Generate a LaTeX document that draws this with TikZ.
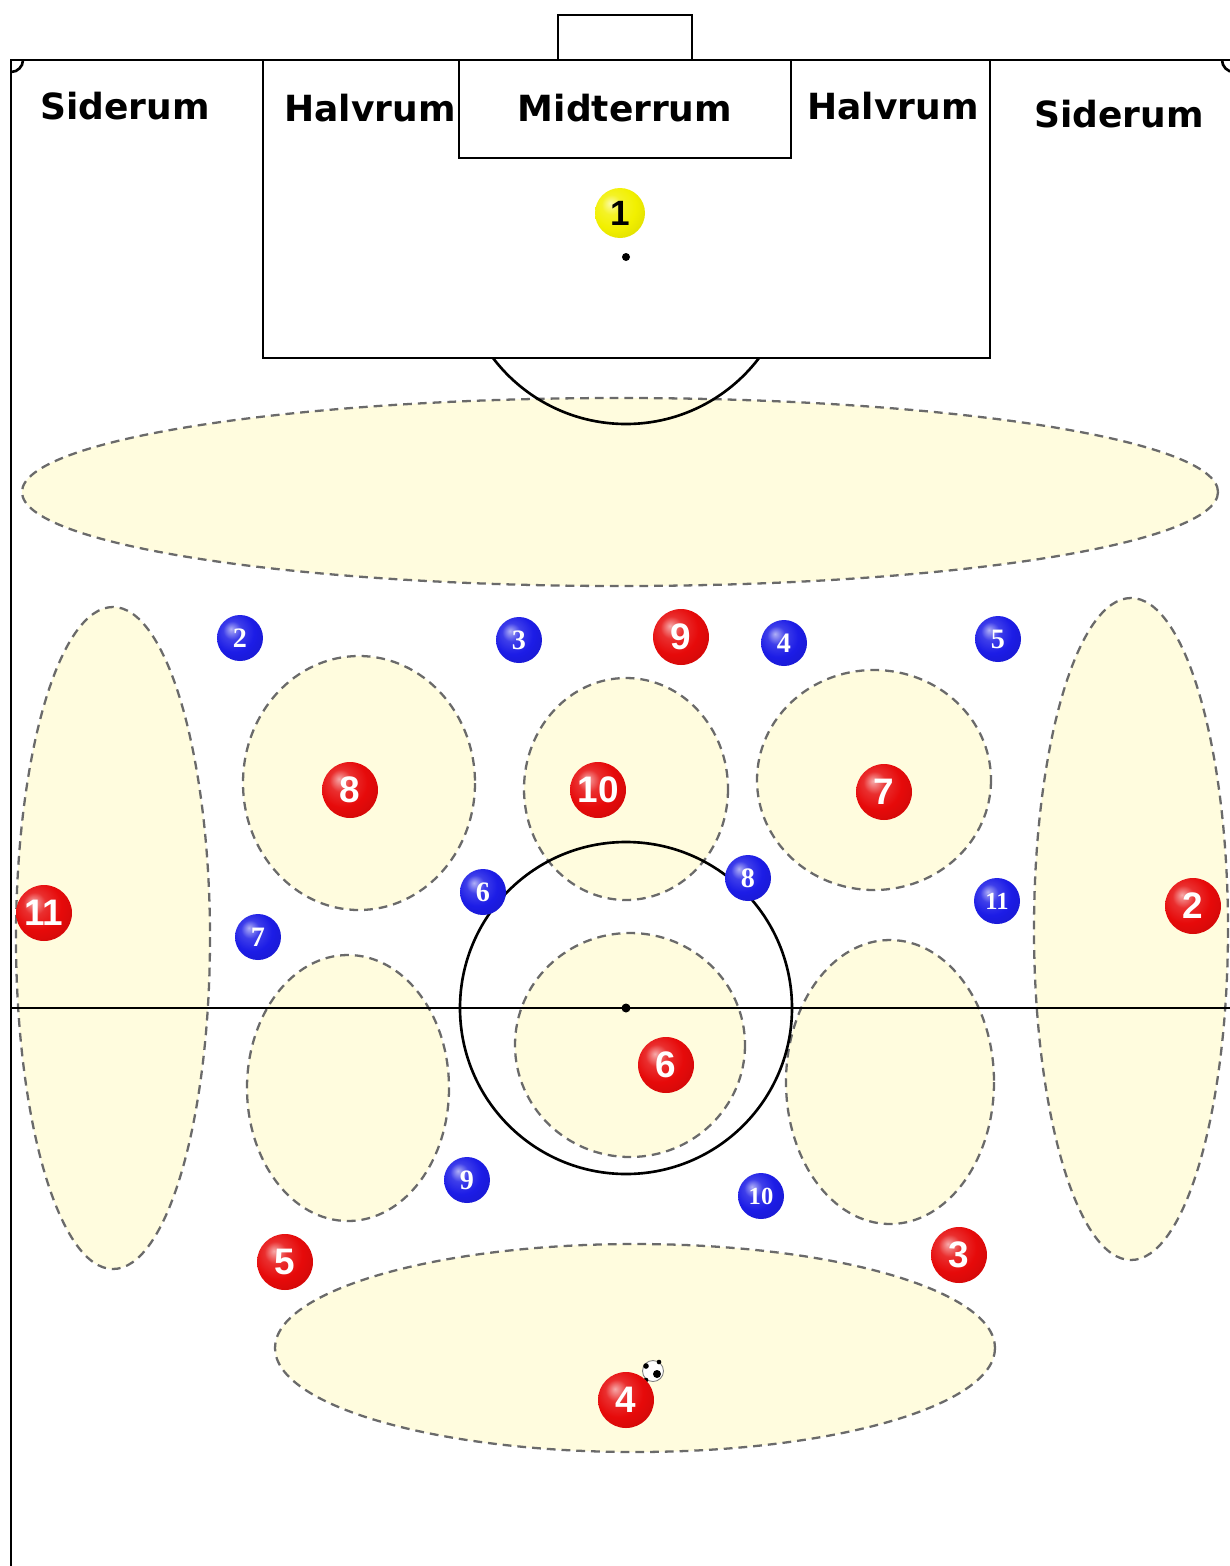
\documentclass[tikz,border=0pt]{standalone}
\usepackage{fontspec}
\setmainfont{Liberation Serif}
\newfontfamily\labfont{DejaVu Sans}
\newfontfamily\numfont{Liberation Sans}
\newfontfamily\bnumfont{Liberation Serif}
\definecolor{zonefill}{HTML}{FFFCDE}
\definecolor{zoneedge}{HTML}{6A6A6A}
\definecolor{pred}{HTML}{E60A0A}
\definecolor{pblue}{HTML}{1C1CE6}
\definecolor{pyel}{HTML}{F2F000}
\pgfdeclareradialshading{redball}{\pgfpoint{-10bp}{10bp}}{color(0bp)=(pred!35!white); color(10bp)=(pred!85!white); color(22bp)=(pred); color(42bp)=(pred!85!black); color(52bp)=(pred!55!black); color(62bp)=(pred!45!black)}
\pgfdeclareradialshading{blueball}{\pgfpoint{-10bp}{10bp}}{color(0bp)=(pblue!35!white); color(10bp)=(pblue!85!white); color(22bp)=(pblue); color(42bp)=(pblue!85!black); color(52bp)=(pblue!60!black); color(62bp)=(pblue!50!black)}
\pgfdeclareradialshading{yelball}{\pgfpoint{-10bp}{10bp}}{color(0bp)=(pyel!35!white); color(10bp)=(pyel!85!white); color(22bp)=(pyel); color(42bp)=(pyel!88!black); color(52bp)=(pyel!65!black); color(62bp)=(pyel!55!black)}
\begin{document}
\begin{tikzpicture}[x=0.02cm,y=-0.02cm,
  fieldline/.style={line width=1.5pt, black},
  zone/.style={fill=zonefill, draw=zoneedge, line width=1.3pt, dash pattern=on 5pt off 3.4pt},
  lab/.style={font=\labfont\bfseries\fontsize{20.5pt}{20.5pt}\selectfont, inner sep=0pt},
  redp/.style={circle, shading=redball, minimum size=1.12cm, inner sep=0pt, text=white,
    font=\numfont\bfseries\fontsize{21pt}{21pt}\selectfont},
  bluep/.style={circle, shading=blueball, minimum size=0.92cm, inner sep=0pt, text=white,
    font=\bnumfont\bfseries\fontsize{16pt}{16pt}\selectfont},
  yellowp/.style={circle, shading=yelball, minimum size=1.0cm, inner sep=0pt, text=black,
    font=\numfont\bfseries\fontsize{20pt}{20pt}\selectfont}
]
\useasboundingbox (0,0) rectangle (1230,1566);
\clip (0,0) rectangle (1230,1566);
\fill[white] (0,0) rectangle (1230,1566);

% zones
\draw[zone] (620,492) ellipse[x radius=598, y radius=94];
\draw[zone] (113,938) ellipse[x radius=97, y radius=331];
\draw[zone] (1131,929) ellipse[x radius=97, y radius=331];
\draw[zone] (359,783) ellipse[x radius=116, y radius=127];
\draw[zone] (626,789) ellipse[x radius=102, y radius=111];
\draw[zone] (874,780) ellipse[x radius=117, y radius=110];
\draw[zone] (348,1088) ellipse[x radius=101, y radius=133];
\draw[zone] (630,1045) ellipse[x radius=115, y radius=112];
\draw[zone] (890,1082) ellipse[x radius=104, y radius=142];
\draw[zone] (635,1348) ellipse[x radius=360, y radius=104];

% field
\draw[fieldline] (11,1600) -- (11,60) -- (1234,60) -- (1234,1600);
\draw[fieldline] (11,1008) -- (1234,1008);
\draw[fieldline] (263,60) rectangle (990,358);
\draw[fieldline] (459,60) rectangle (791,158);
\draw[fieldline] (558,60) -- (558,15) -- (692,15) -- (692,60);
\fill (626,257) circle[radius=4];
\begin{scope}
  \clip (0,358) rectangle (1230,700);
  \draw[fieldline] (626,257) circle[radius=167];
\end{scope}
\begin{scope}
  \clip (11,60) rectangle (1234,1600);
  \draw[fieldline] (11,60) circle[radius=12];
  \draw[fieldline] (1234,60) circle[radius=12];
\end{scope}
\draw[fieldline] (626,1008) circle[radius=166];
\fill (626,1008) circle[radius=4.5];

% labels
\node[lab] (sl) at (125,106) {Siderum};
\node[lab] (hl) at (370,108) {Halvrum};
\node[lab] (mid) at (625,108) {Midterrum};
\node[lab] (hr) at (893,106) {Halvrum};
\node[lab] (sr) at (1119,114) {Siderum};

% goalkeeper
\node[yellowp] (y1) at (620,213) {1};

% red team
\node[redp] (r9) at (681,637) {9};
\node[redp] (r8) at (350,790) {8};
\node[redp] (r10) at (598,790) {10};
\node[redp] (r7) at (884,792) {7};
\node[redp] (r11) at (44,913) {11};
\node[redp] (r2) at (1193,906) {2};
\node[redp] (r6) at (666,1065) {6};
\node[redp] (r5) at (285,1262) {5};
\node[redp] (r3) at (959,1255) {3};

% ball
\node[circle, fill=white, draw=gray, line width=0.5pt, minimum size=0.42cm, inner sep=0pt] (ball) at (653,1371) {};
\fill[black] (657,1374) circle[radius=4];
\fill[black] (646,1366) circle[radius=2.8];
\fill[black] (659,1362) circle[radius=2.3];
\fill[black] (646,1380) circle[radius=2.3];

\node[redp] (r4) at (626,1400) {4};

% blue team
\node[bluep] (b2) at (240,638) {2};
\node[bluep] (b3) at (519,640) {3};
\node[bluep] (b4) at (784,643) {4};
\node[bluep] (b5) at (998,639) {5};
\node[bluep] (b6) at (483,892) {6};
\node[bluep] (b8) at (748,878) {8};
\node[bluep, font=\bnumfont\bfseries\fontsize{14pt}{14pt}\selectfont] (b11) at (997,901) {11};
\node[bluep] (b7) at (258,937) {7};
\node[bluep] (b9) at (467,1180) {9};
\node[bluep, font=\bnumfont\bfseries\fontsize{14pt}{14pt}\selectfont] (b10) at (761,1196) {10};
\end{tikzpicture}
\end{document}
